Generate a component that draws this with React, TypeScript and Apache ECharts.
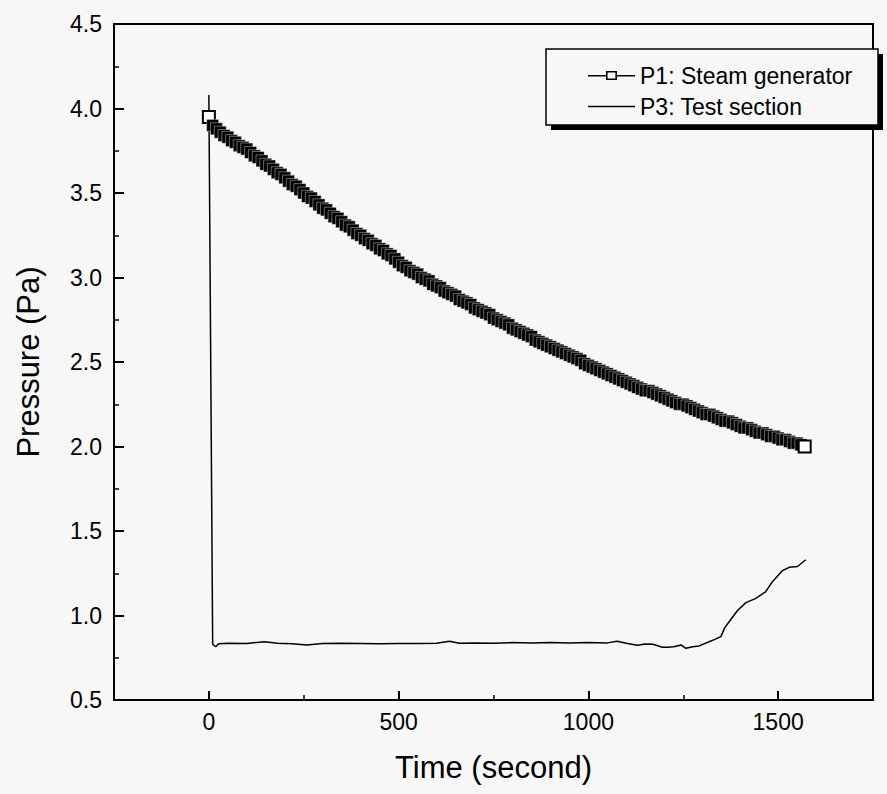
import React, { useEffect, useRef } from "react";
import * as echarts from "echarts";

// P1: Steam generator, sampled every P1_STEP seconds from t = 0
const P1_STEP = 10;
const P1_VALUES = [
  3.95, 3.9, 3.88, 3.86, 3.84, 3.83, 3.81, 3.8, 3.78, 3.77, 3.76,
  3.74, 3.72, 3.71, 3.69, 3.67, 3.66, 3.64, 3.62, 3.61, 3.59,
  3.57, 3.55, 3.54, 3.52, 3.5, 3.48, 3.47, 3.45, 3.43, 3.41,
  3.4, 3.38, 3.36, 3.35, 3.33, 3.31, 3.3, 3.28, 3.26, 3.25,
  3.23, 3.22, 3.2, 3.19, 3.17, 3.16, 3.14, 3.13, 3.11, 3.09,
  3.07, 3.06, 3.04, 3.03, 3.02, 3.0, 2.99, 2.98, 2.96, 2.95,
  2.94, 2.92, 2.91, 2.9, 2.89, 2.87, 2.86, 2.85, 2.84, 2.82,
  2.81, 2.8, 2.79, 2.78, 2.76, 2.75, 2.74, 2.73, 2.72, 2.7,
  2.69, 2.68, 2.67, 2.66, 2.65, 2.63, 2.62, 2.61, 2.6, 2.59,
  2.58, 2.57, 2.56, 2.55, 2.54, 2.53, 2.52, 2.51, 2.49, 2.48,
  2.47, 2.46, 2.45, 2.44, 2.43, 2.42, 2.41, 2.4, 2.39, 2.38,
  2.37, 2.36, 2.35, 2.34, 2.33, 2.33, 2.32, 2.31, 2.3, 2.29,
  2.28, 2.27, 2.26, 2.25, 2.25, 2.24, 2.23, 2.22, 2.21, 2.2,
  2.19, 2.19, 2.18, 2.17, 2.16, 2.15, 2.15, 2.14, 2.13, 2.12,
  2.11, 2.11, 2.1, 2.09, 2.08, 2.08, 2.07, 2.06, 2.06, 2.05,
  2.04, 2.04, 2.03, 2.02, 2.02, 2.01, 2.0,
];

// P3: Test section
const P3_TIMES = [
  0, 10, 18, 26, 50, 100, 147, 180, 220, 258, 300, 350, 400, 450, 500, 550,
  600, 634, 660, 700, 750, 800, 850, 900, 950, 1000, 1050, 1076, 1100, 1129,
  1150, 1170, 1195, 1208, 1225, 1244, 1257, 1275, 1292, 1318, 1335, 1349, 1360,
  1371, 1393, 1415, 1440, 1467, 1485, 1511, 1529, 1551, 1573,
];
const P3_VALUES = [
  4.08, 0.83, 0.815, 0.833, 0.836, 0.834, 0.845, 0.836, 0.833, 0.826, 0.834,
  0.836, 0.835, 0.833, 0.834, 0.834, 0.836, 0.847, 0.836, 0.838, 0.836, 0.84,
  0.838, 0.84, 0.838, 0.84, 0.838, 0.847, 0.836, 0.824, 0.832, 0.83, 0.812,
  0.812, 0.815, 0.826, 0.806, 0.815, 0.82, 0.845, 0.86, 0.875, 0.93, 0.963,
  1.03, 1.076, 1.1, 1.14, 1.2, 1.265, 1.285, 1.29, 1.33,
];

const X_MAJOR_TICKS = [0, 500, 1000, 1500];
const X_MINOR_TICKS = [250, 750, 1250];
const X_MIN = -250;
const X_MAX = 1750;
const Y_MIN = 0.5;
const Y_MAX = 4.5;
const Y_INTERVAL = 0.5;

const SERIES_NAMES = ["P1: Steam generator", "P3: Test section"];
const AXIS_NAMES = { x: "Time (second)", y: "Pressure (Pa)" };

const FONT = "'Liberation Sans', Arial, sans-serif";
const BG = "#f7f7f7";

// legend icons: line with hollow square, plain line
const ICON_LINE_SQUARE =
  "path://M0,4 L18,4 L18,0 L29,0 L29,4 L47,4 L47,5.5 L29,5.5 L29,9 L18,9 L18,5.5 L0,5.5 Z M19.6,1.6 L19.6,7.4 L27.4,7.4 L27.4,1.6 Z";
const ICON_LINE = "path://M0,4 L47,4 L47,5.5 L0,5.5 Z";

export default function App() {
  const ref = useRef<HTMLDivElement>(null);

  useEffect(() => {
    if (!ref.current) return;
    document.body.style.margin = "0";
    document.body.style.background = BG;
    const chart = echarts.init(ref.current, undefined, { renderer: "svg" });

    const last = P1_VALUES.length - 1;
    const hollow = { color: "#fff", borderColor: "#000", borderWidth: 2 };
    const p1Data = P1_VALUES.map((v, i) =>
      i === 0 || i === last
        ? { value: [i * P1_STEP, v], itemStyle: hollow }
        : [i * P1_STEP, v]
    );
    const p3Data = P3_TIMES.map((t, i) => [t, P3_VALUES[i]]);

    const axisLineStyle = { color: "#000", width: 2 };

    chart.setOption({
      animation: false,
      backgroundColor: BG,
      textStyle: { fontFamily: FONT },
      grid: {
        left: 114,
        right: 14,
        top: 24,
        bottom: 94,
        show: true,
        borderColor: "#000",
        borderWidth: 2,
        backgroundColor: "transparent",
      },
      legend: {
        orient: "vertical",
        left: 583,
        top: 59,
        itemWidth: 47,
        itemHeight: 9,
        itemGap: 8,
        z: 20,
        data: [
          { name: SERIES_NAMES[0], icon: ICON_LINE_SQUARE },
          { name: SERIES_NAMES[1], icon: ICON_LINE },
        ],
        itemStyle: { color: "#000", borderWidth: 0 },
        textStyle: { fontSize: 23, color: "#000", fontFamily: FONT },
      },
      graphic: [
        {
          type: "rect",
          z: 10,
          shape: { x: 551, y: 54, width: 332, height: 76 },
          style: { fill: "#000" },
        },
        {
          type: "rect",
          z: 11,
          shape: { x: 546, y: 49, width: 332, height: 76 },
          style: { fill: BG, stroke: "#000", lineWidth: 1.5 },
        },
      ],
      xAxis: [
        {
          type: "value",
          min: X_MIN,
          max: X_MAX,
          name: AXIS_NAMES.x,
          nameLocation: "middle",
          nameGap: 52,
          nameTextStyle: { fontSize: 31, color: "#000", fontFamily: FONT },
          axisLine: { show: true, onZero: false, lineStyle: axisLineStyle },
          axisTick: {
            show: true,
            inside: true,
            length: 9,
            customValues: X_MAJOR_TICKS,
            lineStyle: { color: "#000", width: 2 },
          },
          axisLabel: {
            show: true,
            customValues: X_MAJOR_TICKS,
            fontSize: 23,
            color: "#000",
            margin: 10,
            fontFamily: FONT,
            formatter: (v: number) => String(v),
          },
          splitLine: { show: false },
        },
        {
          type: "value",
          min: X_MIN,
          max: X_MAX,
          position: "bottom",
          axisLine: { show: false, onZero: false },
          axisTick: {
            show: true,
            inside: true,
            length: 5,
            customValues: X_MINOR_TICKS,
            lineStyle: { color: "#000", width: 1.5 },
          },
          axisLabel: { show: false },
          splitLine: { show: false },
        },
      ],
      yAxis: {
        type: "value",
        min: Y_MIN,
        max: Y_MAX,
        interval: Y_INTERVAL,
        name: AXIS_NAMES.y,
        nameLocation: "middle",
        nameGap: 70,
        nameTextStyle: { fontSize: 31, color: "#000", fontFamily: FONT },
        axisLine: { show: true, onZero: false, lineStyle: axisLineStyle },
        axisTick: {
          show: true,
          inside: true,
          length: 10,
          lineStyle: { color: "#000", width: 2 },
        },
        minorTick: {
          show: true,
          splitNumber: 2,
          length: 5,
          lineStyle: { color: "#000", width: 1.5 },
        },
        axisLabel: {
          fontSize: 23,
          color: "#000",
          margin: 12,
          fontFamily: FONT,
          formatter: (v: number) => v.toFixed(1),
        },
        splitLine: { show: false },
        minorSplitLine: { show: false },
      },
      series: [
        {
          name: SERIES_NAMES[1],
          type: "line",
          data: p3Data,
          symbol: "none",
          lineStyle: { color: "#000", width: 1.5 },
          itemStyle: { color: "#000" },
          z: 2,
        },
        {
          name: SERIES_NAMES[0],
          type: "line",
          data: p1Data,
          symbol: "rect",
          symbolSize: 12,
          showAllSymbol: true,
          lineStyle: { color: "#000", width: 1.5 },
          itemStyle: { color: "#000", borderColor: "#fff", borderWidth: 0.4 },
          z: 3,
        },
      ],
    });

    return () => chart.dispose();
  }, []);

  return (
    <div
      ref={ref}
      style={{ position: "fixed", left: 0, top: 0, width: 887, height: 794 }}
    />
  );
}
